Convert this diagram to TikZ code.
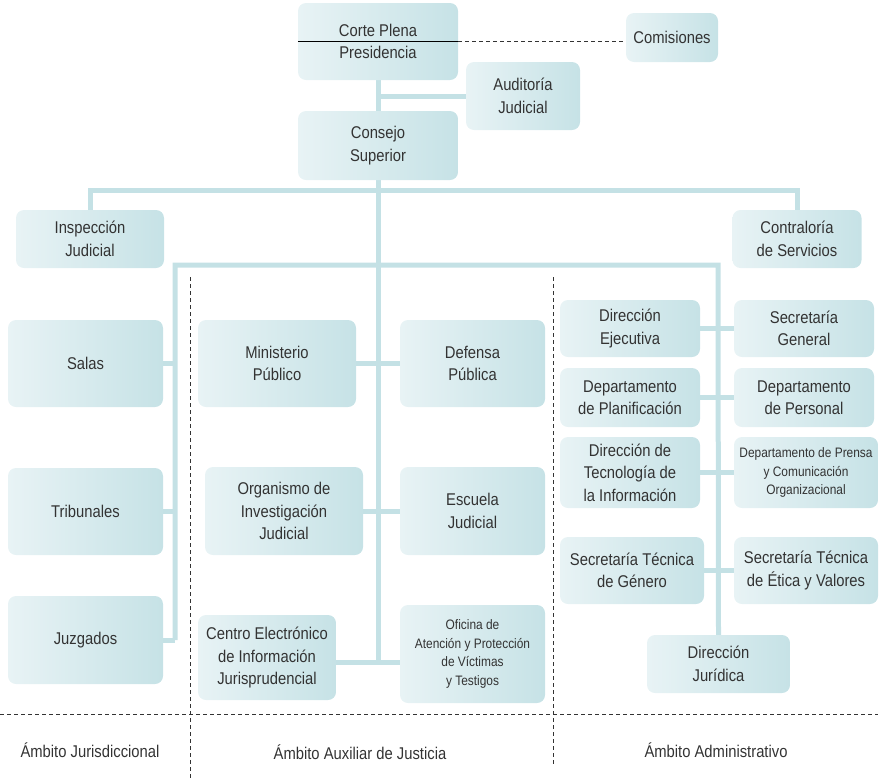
\documentclass[tikz,border=0pt]{standalone}
\usepackage{fontspec}
\setmainfont[FakeStretch=0.87]{Liberation Sans}
\usetikzlibrary{backgrounds}
\definecolor{cajaclaro}{HTML}{E8F3F5}
\definecolor{cajaoscuro}{HTML}{C6E2E6}
\definecolor{enlacecol}{HTML}{C4E1E5}
\definecolor{textocol}{HTML}{333333}
\begin{document}
\begin{tikzpicture}[x=1pt, y=-1pt,
    caja/.style={rounded corners=8pt, left color=cajaclaro, right color=cajaoscuro,
        align=center, inner sep=0pt, text=textocol,
        font=\fontsize{17}{22.5}\selectfont},
    pequeno/.style={font=\fontsize{13.7}{18.5}\selectfont},
    enlace/.style={enlacecol, line width=5pt},
    divisor/.style={dash pattern=on 4pt off 3pt, gray!40!black, line width=0.8pt}]
    \useasboundingbox (0,0) rectangle (880,780);

    % 上层机构
    \node[caja, minimum width=160, minimum height=77] (cp) at (378,41.5) {Corte Plena\\Presidencia};
    \node[caja, minimum width=92, minimum height=49] (com) at (672,37.5) {Comisiones};
    \node[caja, minimum width=114, minimum height=68] (aud) at (523,96) {Auditoría\\Judicial};
    \node[caja, minimum width=160, minimum height=69] (cs) at (378,145.5) {Consejo\\Superior};
    \node[caja, minimum width=148, minimum height=58] (ij) at (90,239) {Inspección\\Judicial};
    \node[caja, minimum width=129, minimum height=58] (cont) at (797,239) {Contraloría\\de Servicios};

    % 司法领域
    \node[caja, minimum width=155, minimum height=87] (sal) at (85.5,363.5) {Salas};
    \node[caja, minimum width=155, minimum height=87] (tri) at (85.5,511.5) {Tribunales};
    \node[caja, minimum width=155, minimum height=88] (juz) at (85.5,640) {Juzgados};

    % 辅助领域
    \node[caja, minimum width=158, minimum height=87] (mp) at (277,363.5) {Ministerio\\Público};
    \node[caja, minimum width=145, minimum height=87] (dp) at (472.5,363.5) {Defensa\\Pública};
    \node[caja, minimum width=158, minimum height=88] (oij) at (284,511) {Organismo de\\Investigación\\Judicial};
    \node[caja, minimum width=145, minimum height=88] (ej) at (472.5,511) {Escuela\\Judicial};
    \node[caja, minimum width=138, minimum height=85] (ce) at (267,657.5) {Centro Electrónico\\de Información\\Jurisprudencial};
    \node[caja, pequeno, minimum width=145, minimum height=98] (of) at (472.5,654) {Oficina de\\Atención y Protección\\de Víctimas\\y Testigos};

    % 行政领域
    \node[caja, minimum width=140, minimum height=57] (de) at (630,328.5) {Dirección\\Ejecutiva};
    \node[caja, minimum width=140, minimum height=57] (sg) at (804,328.5) {Secretaría\\General};
    \node[caja, minimum width=140, minimum height=59] (dplan) at (630,397.5) {Departamento\\de Planificación};
    \node[caja, minimum width=140, minimum height=59] (dper) at (804,397.5) {Departamento\\de Personal};
    \node[caja, minimum width=140, minimum height=71] (dti) at (630,472.5) {Dirección de\\Tecnología de\\la Información};
    \node[caja, pequeno, minimum width=144, minimum height=71] (dpre) at (806,472.5) {Departamento de Prensa\\y Comunicación\\Organizacional};
    \node[caja, minimum width=144, minimum height=67] (stg) at (632,570.5) {Secretaría Técnica\\de Género};
    \node[caja, minimum width=144, minimum height=67] (ste) at (806,570.5) {Secretaría Técnica\\de Ética y Valores};
    \node[caja, minimum width=143, minimum height=58] (dj) at (718.5,664) {Dirección\\Jurídica};

    % 连接线
    \coordinate (h1) at (378,190);
    \coordinate (h2l) at (175,265);
    \coordinate (h2r) at (718,265);
    \coordinate (ofi) at (378,662);
    \begin{scope}[on background layer]
        \draw[enlace] (cp.south) -- (cs.north);
        \draw[enlace] (aud.west) -- (aud.west -| cp.south);
        \draw[enlace] (cs.south) -- (ofi);
        \draw[enlace] (ij.north) |- (h1) -| (cont.north);
        \draw[enlace] (h2l |- juz.east) -- (h2l) -- (h2r) -- (dj.north);
        \draw[enlace] (sal.east) -- (sal.east -| h2l);
        \draw[enlace] (tri.east) -- (tri.east -| h2l);
        \draw[enlace] (juz.east) -- (juz.east -| h2l);
        \draw[enlace] (mp.east) -- (dp.west);
        \draw[enlace] (oij.east) -- (ej.west);
        \draw[enlace] (ce.east |- ofi) -- (of.west |- ofi);
        \draw[enlace] (de.east) -- (sg.west);
        \draw[enlace] (dplan.east) -- (dper.west);
        \draw[enlace] (dti.east) -- (dpre.west);
        \draw[enlace] (stg.east) -- (ste.west);
    \end{scope}

    % 全院会议与委员会
    \draw[line width=0.8pt] (cp.west) -- (cp.east);
    \draw[divisor] (cp.east) -- (cp.east -| com.west);

    % 领域分隔
    \draw[divisor] (190,277) -- (190,780);
    \draw[divisor] (553,277) -- (553,766);
    \draw[divisor] (0,714) -- (878,714);
    \node[text=textocol, font=\fontsize{17}{20}\selectfont] (aj) at (90,750) {Ámbito Jurisdiccional};
    \node[text=textocol, font=\fontsize{17}{20}\selectfont] (aa) at (360,752) {Ámbito Auxiliar de Justicia};
    \node[text=textocol, font=\fontsize{17}{20}\selectfont] (ad) at (716,750) {Ámbito Administrativo};
\end{tikzpicture}
\end{document}
